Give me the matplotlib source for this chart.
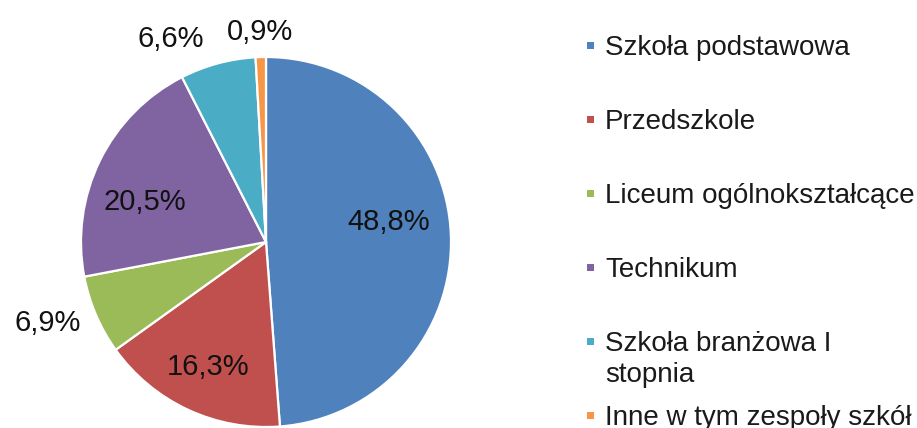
import matplotlib
matplotlib.use("Agg")
import matplotlib.pyplot as plt
from matplotlib.patches import Rectangle
import numpy as np

plt.rcParams['font.family'] = ['Liberation Sans', 'DejaVu Sans']

# data
categories = ["Szkoła podstawowa", "Przedszkole", "Liceum ogólnokształcące",
              "Technikum", "Szkoła branżowa I\nstopnia", "Inne w tym zespoły szkół"]
shares = [48.8, 16.3, 6.9, 20.5, 6.6, 0.9]
pct_labels = ["48,8%", "16,3%", "6,9%", "20,5%", "6,6%", "0,9%"]
colors = ['#4F81BD', '#C0504D', '#9BBB59', '#8064A2', '#4BACC6', '#F79646']

# label placement (radius as fraction of pie radius, angle nudge in degrees)
label_r = [0.67, 0.745, 1.26, 0.69, 1.21, 1.135]
label_nudge = [7, 0, -3, 8, 10, 0]

W, H = 917, 428
fig = plt.figure(figsize=(W / 100, H / 100), dpi=100)

# pie axes: centre at (266, 242) px from top-left, radius 185 px
cx, cy, R = 266, 242, 185
ax = fig.add_axes([(cx - R) / W, (H - cy - R) / H, 2 * R / W, 2 * R / H])
wedges, _ = ax.pie(shares, colors=colors, startangle=90, counterclock=False,
                   radius=1, wedgeprops=dict(edgecolor='white', linewidth=1.6))
for w in wedges:
    w.set_clip_on(False)
ax.set_xlim(-1, 1)
ax.set_ylim(-1, 1)
ax.set_aspect('equal')
ax.axis('off')

# percentage labels
total = sum(shares)
cum = np.cumsum([0] + shares)
for i, lab in enumerate(pct_labels):
    mid = 90 - (cum[i] + shares[i] / 2) / total * 360 + label_nudge[i]
    ang = np.deg2rad(mid)
    ax.text(label_r[i] * np.cos(ang), label_r[i] * np.sin(ang), lab,
            ha='center', va='center', fontsize=21, color='#111111')

# legend drawn on a full-figure overlay in pixel units
lax = fig.add_axes([0, 0, 1, 1])
lax.set_xlim(0, W)
lax.set_ylim(H, 0)
lax.axis('off')
first_baseline = 55
row_step = 74
line_step = 31
for i, (name, col) in enumerate(zip(categories, colors)):
    base = first_baseline + i * row_step
    lax.add_patch(Rectangle((587, base - 13), 7, 7, facecolor=col, edgecolor='none'))
    for j, line in enumerate(name.split('\n')):
        lax.text(605, base + j * line_step, line, ha='left', va='baseline',
                 fontsize=20, color='#1a1a1a')

fig.savefig("out.png", dpi=100)
